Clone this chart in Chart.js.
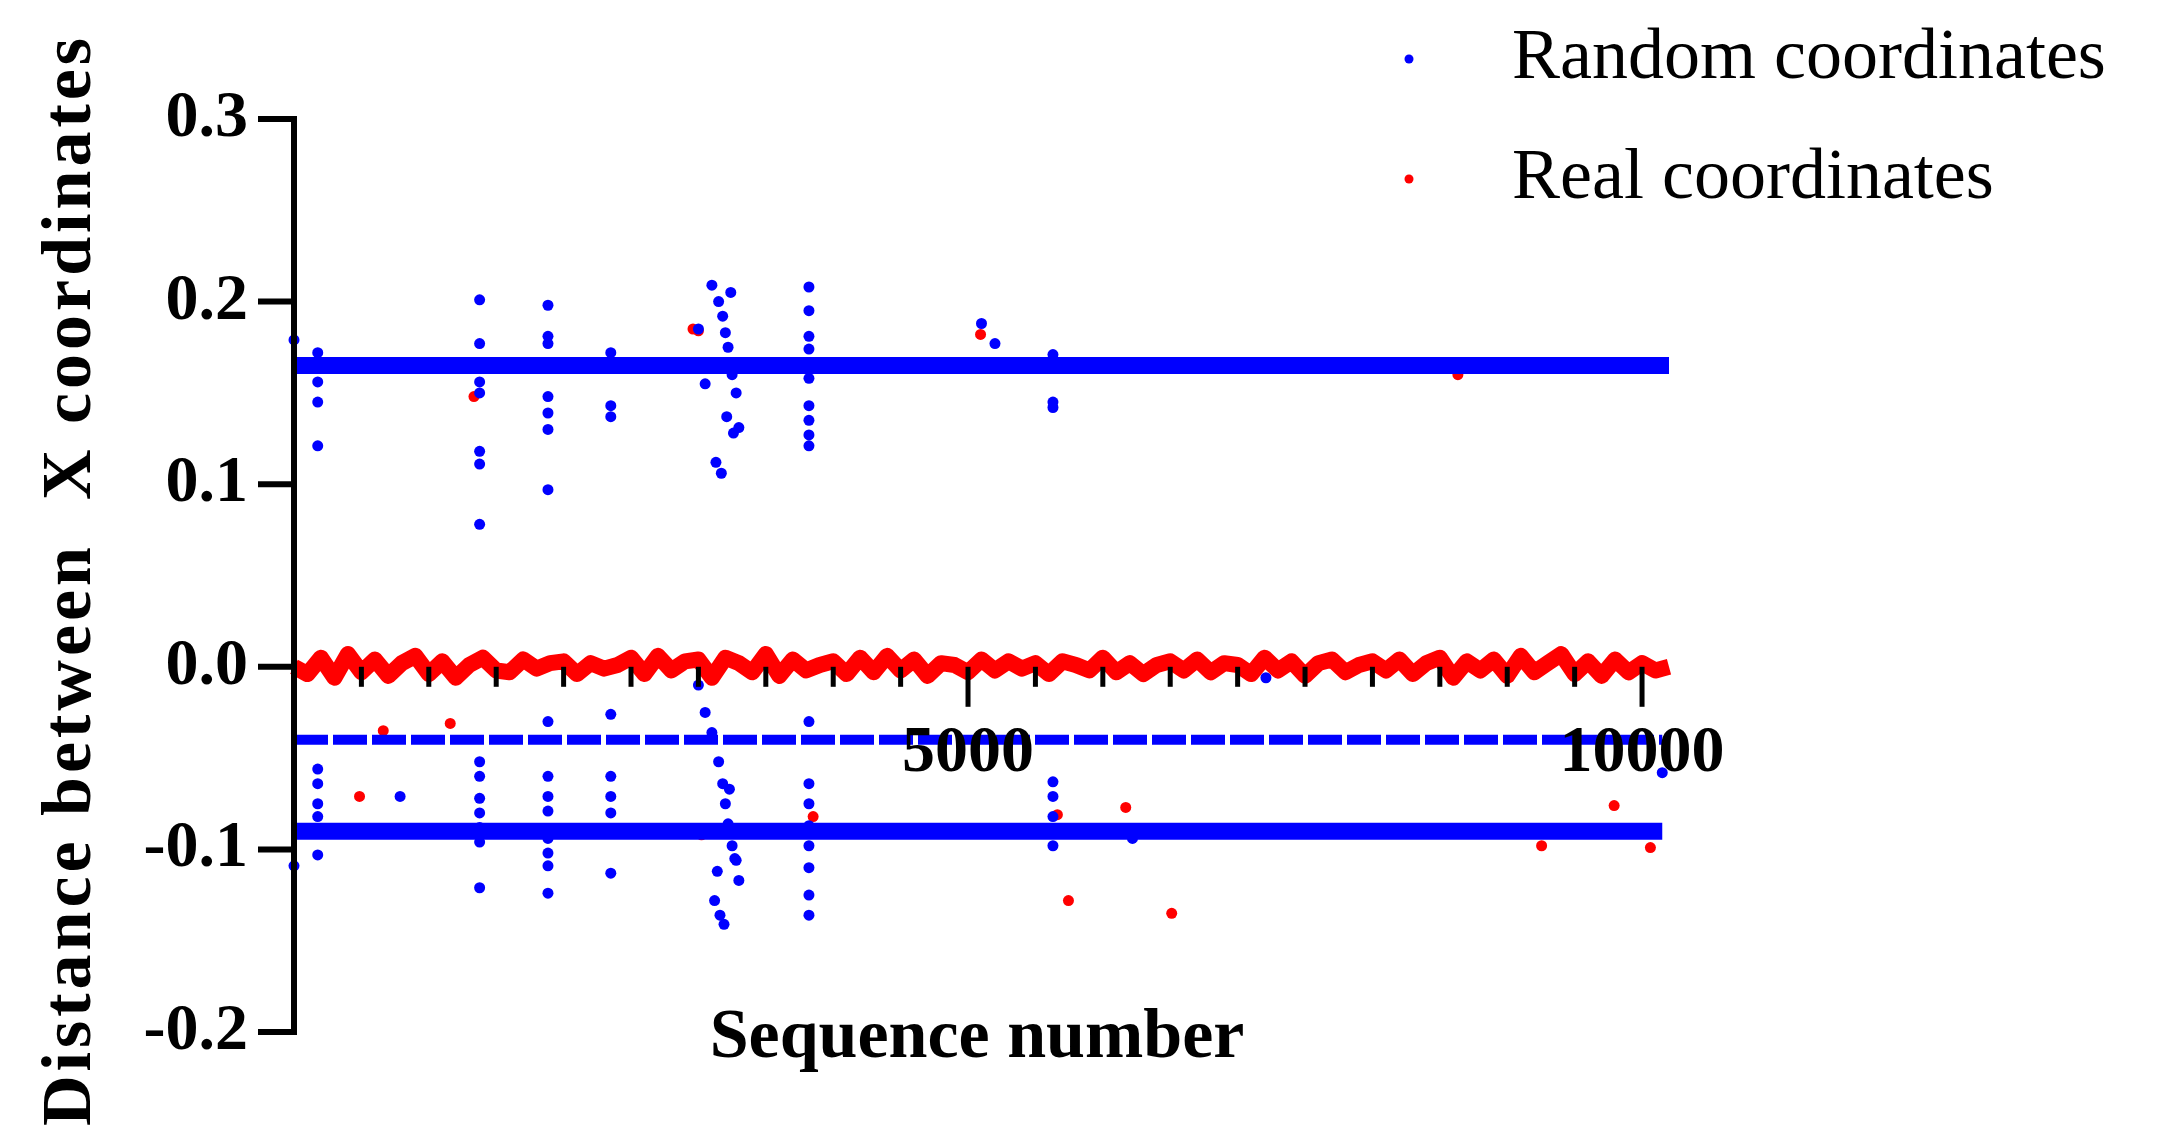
<!DOCTYPE html>
<html>
<head>
<meta charset="utf-8">
<script src="https://cdn.jsdelivr.net/npm/chart.js@4"></script>
<style>
  html, body { margin: 0; padding: 0; background: #fff; }
  #wrap { width: 2176px; height: 1136px; }
</style>
</head>
<body>
<div id="wrap"><canvas id="chart" width="2176" height="1136"></canvas></div>
<script>
// dense bands (start and end of each band)
const bandUpperX = [0, 10200];
const bandUpperY = [0.165, 0.165];
const bandLowerX = [0, 10150];
const bandLowerY = [-0.090, -0.090];
const bandMidX = [0, 10150];
const bandMidY = [-0.040, -0.040];

// red band around zero, read every 100 sequence numbers
const realBandY = [
  0.000, -0.004, 0.005, -0.006, 0.007, -0.003, 0.004, -0.005, 0.002, 0.006,
  -0.004, 0.003, -0.006, 0.001, 0.005, -0.002, -0.003, 0.004, -0.001, 0.002,
  0.003, -0.004, 0.002, -0.001, 0.001, 0.005, -0.004, 0.006, -0.002, 0.003,
  0.004, -0.006, 0.005, 0.002, -0.003, 0.007, -0.005, 0.004, -0.002, 0.001,
  0.003, -0.004, 0.005, -0.003, 0.006, -0.002, 0.004, -0.005, 0.002, 0.001,
  -0.003, 0.004, -0.002, 0.003, -0.001, 0.002, -0.004, 0.003, 0.001, -0.002,
  0.005, -0.003, 0.002, -0.004, 0.001, 0.003, -0.002, 0.004, -0.003, 0.002,
  0.001, -0.004, 0.005, -0.002, 0.003, -0.005, 0.002, 0.004, -0.003, 0.001,
  0.003, -0.002, 0.004, -0.004, 0.002, 0.005, -0.006, 0.003, -0.002, 0.004,
  -0.005, 0.006, -0.003, 0.002, 0.007, -0.004, 0.003, -0.005, 0.004, -0.003,
  0.002, -0.002, 0.000
];
const realBandStep = 100;

// scattered random-coordinate points
const randomX = [
  0, 0, 176, 176, 176, 176, 176, 176, 176, 176, 176, 176,
  1377, 1377, 1377, 1377, 1377, 1377, 1377, 1377, 1377, 1377, 1377, 1377, 1377, 1377,
  1884, 1884, 1884, 1884, 1884, 1884, 1884, 1884, 1884, 1884, 1884, 1884, 1884, 1884, 1884,
  2350, 2350, 2350, 2350, 2350, 2350, 2350, 2350, 2350, 2350,
  3000, 3050, 3100, 3150, 3180, 3200, 3220, 3250, 3280, 3300, 3130, 3170, 3210, 3240, 3260,
  3000, 3050, 3100, 3150, 3180, 3200, 3220, 3250, 3280, 3300, 3120, 3160, 3190, 3230, 3270, 3140,
  3820, 3820, 3820, 3820, 3820, 3820, 3820, 3820, 3820, 3820, 3820, 3820, 3820, 3820, 3820, 3820, 3820,
  5100, 5200, 5630, 5630, 5630, 5630, 5630, 5630, 5630, 5630, 6220, 7210, 10150, 787
];
const randomY = [
  0.179, -0.109, 0.172, 0.156, 0.145, 0.121, -0.056, -0.064, -0.075, -0.082, -0.090, -0.103,
  0.201, 0.177, 0.156, 0.150, 0.118, 0.111, 0.078, -0.052, -0.060, -0.072, -0.080, -0.088, -0.096, -0.121,
  0.198, 0.181, 0.177, 0.148, 0.139, 0.130, 0.097, -0.030, -0.060, -0.071, -0.079, -0.094, -0.102, -0.109, -0.124,
  0.172, 0.167, 0.143, 0.137, -0.026, -0.060, -0.071, -0.080, -0.090, -0.113,
  0.185, 0.155, 0.209, 0.200, 0.192, 0.183, 0.175, 0.160, 0.150, 0.131, 0.112, 0.106, 0.137, 0.205, 0.128,
  -0.010, -0.025, -0.036, -0.052, -0.064, -0.075, -0.086, -0.098, -0.106, -0.117, -0.128, -0.136, -0.141, -0.067, -0.105, -0.112,
  0.208, 0.195, 0.181, 0.174, 0.158, 0.143, 0.135, 0.127, 0.121, -0.030, -0.064, -0.075, -0.087, -0.098, -0.110, -0.125, -0.136,
  0.188, 0.177, 0.171, 0.145, 0.142, -0.063, -0.071, -0.082, -0.090, -0.098, -0.094, -0.006, -0.058, -0.071
];

// scattered real-coordinate points
const realX = [2960, 3000, 5093, 1335, 8634, 662, 1159, 486, 3851, 5663, 6170, 5745, 6511, 9255, 9793, 10062, 3023];
const realY = [0.185, 0.184, 0.182, 0.148, 0.160, -0.035, -0.031, -0.071, -0.082, -0.081, -0.077, -0.128, -0.135, -0.098, -0.076, -0.099, -0.092];

const yTicks = [0.3, 0.2, 0.1, 0.0, -0.1, -0.2];
const xMinorTicks = [500, 1000, 1500, 2000, 2500, 3000, 3500, 4000, 4500, 5500, 6000, 6500, 7000, 7500, 8000, 8500, 9000, 9500];
const xMajorTicks = [5000, 10000];

const BLUE = '#0000ff';
const RED = '#ff0000';
const SERIF = '"Liberation Serif", "DejaVu Serif", serif';

function pts(xs, ys) { return xs.map((x, i) => ({ x: x, y: ys[i] })); }
const realBand = realBandY.map((y, i) => ({ x: i * realBandStep, y: y }));

const axesPlugin = {
  id: 'axesPlugin',
  afterDatasetsDraw(chart) {
    const ctx = chart.ctx;
    const xs = chart.scales.x, ys = chart.scales.y;
    const x0 = xs.getPixelForValue(0);
    const yZero = ys.getPixelForValue(0);
    ctx.save();
    ctx.fillStyle = '#000';
    ctx.strokeStyle = '#000';
    // y axis
    ctx.lineWidth = 6;
    ctx.beginPath();
    ctx.moveTo(x0, ys.getPixelForValue(0.3) - 3);
    ctx.lineTo(x0, ys.getPixelForValue(-0.2) + 3);
    ctx.stroke();
    ctx.font = 'bold 66px ' + SERIF;
    ctx.textAlign = 'right';
    ctx.textBaseline = 'middle';
    yTicks.forEach(v => {
      const p = ys.getPixelForValue(v);
      ctx.beginPath();
      ctx.moveTo(x0 - 36, p);
      ctx.lineTo(x0, p);
      ctx.stroke();
      ctx.fillText(v.toFixed(1), x0 - 46, p);
    });
    // x ticks hanging from the zero line
    ctx.lineWidth = 5;
    xMinorTicks.forEach(v => {
      const p = xs.getPixelForValue(v);
      ctx.beginPath(); ctx.moveTo(p, yZero); ctx.lineTo(p, yZero + 20); ctx.stroke();
    });
    ctx.textAlign = 'center';
    ctx.textBaseline = 'top';
    xMajorTicks.forEach(v => {
      const p = xs.getPixelForValue(v);
      ctx.beginPath(); ctx.moveTo(p, yZero); ctx.lineTo(p, yZero + 40); ctx.stroke();
      ctx.fillText(String(v), p, yZero + 54);
    });
    // axis titles
    ctx.font = 'bold 70px ' + SERIF;
    ctx.fillText('Sequence number', 977, 1004);
    ctx.save();
    ctx.translate(72, 580);
    ctx.rotate(-Math.PI / 2);
    ctx.font = 'bold 70px ' + SERIF;
    ctx.letterSpacing = '4px';
    ctx.textBaseline = 'middle';
    ctx.fillText('Distance between  X coordinates', 0, 0);
    ctx.restore();
    // legend
    ctx.font = '72px ' + SERIF;
    ctx.textAlign = 'left';
    ctx.textBaseline = 'middle';
    [['Random coordinates', BLUE, 59], ['Real coordinates', RED, 179]].forEach(([t, c, y]) => {
      ctx.fillStyle = c;
      ctx.beginPath(); ctx.arc(1409, y, 4.5, 0, Math.PI * 2); ctx.fill();
      ctx.fillStyle = '#000';
      ctx.fillText(t, 1512, y);
    });
    ctx.restore();
  }
};

new Chart(document.getElementById('chart').getContext('2d'), {
  type: 'scatter',
  data: {
    datasets: [
      { data: pts(bandUpperX, bandUpperY), showLine: true, borderColor: BLUE, borderWidth: 17, pointRadius: 0 },
      { data: pts(bandLowerX, bandLowerY), showLine: true, borderColor: BLUE, borderWidth: 17, pointRadius: 0 },
      { data: pts(bandMidX, bandMidY), showLine: true, borderColor: BLUE, borderWidth: 10, borderDash: [34, 5], pointRadius: 0 },
      { data: pts(randomX, randomY), backgroundColor: BLUE, borderWidth: 0, pointRadius: 5.5 },
      { data: realBand, showLine: true, borderColor: RED, borderWidth: 16, borderJoinStyle: 'round', pointRadius: 0, tension: 0 },
      { data: pts(realX, realY), backgroundColor: RED, borderWidth: 0, pointRadius: 5.5 }
    ]
  },
  options: {
    responsive: false,
    animation: false,
    clip: false,
    layout: { padding: { left: 294, top: 119, right: 507, bottom: 104 } },
    scales: {
      x: { type: 'linear', min: 0, max: 10200, display: false },
      y: { type: 'linear', min: -0.2, max: 0.3, display: false }
    },
    plugins: { legend: { display: false }, tooltip: { enabled: false } }
  },
  plugins: [axesPlugin]
});
</script>
</body>
</html>
